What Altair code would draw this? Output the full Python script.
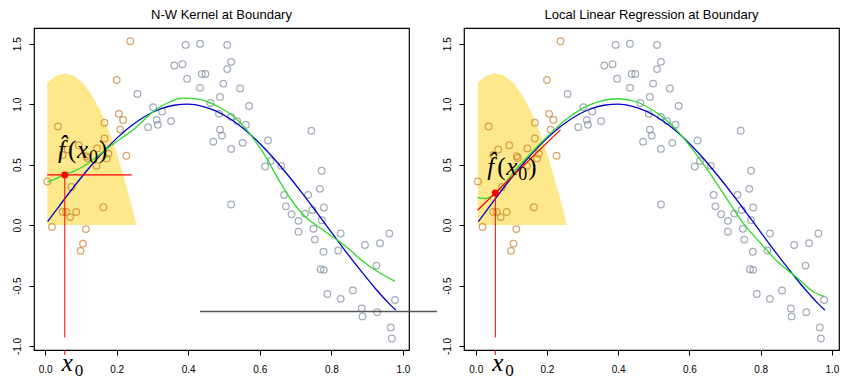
import altair as alt
import pandas as pd

titles = ["N-W Kernel at Boundary", "Local Linear Regression at Boundary"]

# observations inside the kernel window (orange)
orange_x = [0.006, 0.019, 0.036, 0.049, 0.059, 0.070, 0.074, 0.087, 0.049, 0.063,
            0.094, 0.099, 0.106, 0.114, 0.115, 0.118, 0.145, 0.144, 0.163, 0.166,
            0.166, 0.172, 0.177, 0.200, 0.206, 0.210, 0.218, 0.227, 0.238]
orange_y = [0.36, -0.015, 0.815, 0.108, 0.108, 0.066, 0.315, 0.108, 0.58, 0.625,
            0.66, -0.213, -0.153, -0.033, 0.57, 0.555, 0.634, 0.49, 0.148, 0.847,
            0.716, 0.55, 0.59, 1.20, 0.92, 0.79, 0.87, 0.574, 1.52]

# remaining observations (grey)
grey_x = [0.258, 0.288, 0.302, 0.312, 0.315, 0.327, 0.352, 0.361, 0.384, 0.393,
          0.397, 0.433, 0.433, 0.438, 0.448, 0.462, 0.470, 0.486, 0.489, 0.489,
          0.494, 0.498, 0.509, 0.509, 0.520, 0.520, 0.520, 0.520, 0.537, 0.545,
          0.552, 0.561, 0.570, 0.615, 0.623, 0.630, 0.660, 0.668, 0.673, 0.689,
          0.708, 0.708, 0.726, 0.735, 0.744, 0.747, 0.750, 0.754, 0.768, 0.773,
          0.773, 0.778, 0.779, 0.770, 0.779, 0.789, 0.819, 0.826, 0.826, 0.860,
          0.885, 0.887, 0.894, 0.926, 0.928, 0.936, 0.962, 0.966, 0.969, 0.978]
grey_y = [1.085, 0.81, 0.975, 0.87, 0.83, 0.94, 0.86, 1.32, 1.33, 1.49,
          1.21, 1.50, 1.135, 1.25, 1.25, 1.01, 0.69, 0.92, 1.06, 0.79,
          0.74, 1.17, 1.49, 1.29, 1.35, 0.63, 0.895, 0.17, 0.86, 1.13,
          0.68, 0.83, 0.985, 0.485, 0.70, 0.53, 0.49, 0.25, 0.155, 0.09,
          0.035, -0.055, 0.095, 0.25, 0.78, 0.125, -0.03, -0.12, 0.30, 0.45,
          0.04, -0.22, 0.145, -0.365, -0.37, -0.57, -0.21, -0.07, -0.61, -0.54,
          -0.69, -0.755, -0.165, -0.335, -0.72, -0.15, -0.07, -0.846, -0.937, -0.62]

# kernel weights drawn as the yellow region
kernel_x = [0.006, 0.030, 0.055, 0.080, 0.105, 0.130, 0.155, 0.180, 0.205, 0.230, 0.256]
kernel_h = [1.18, 1.235, 1.255, 1.235, 1.177, 1.078, 0.941, 0.765, 0.549, 0.294, 0.0]

# true function (blue)
true_x = [0.007, 0.04, 0.08, 0.12, 0.16, 0.20, 0.24, 0.28, 0.32, 0.36, 0.40, 0.44, 0.48,
          0.52, 0.56, 0.60, 0.64, 0.68, 0.72, 0.76, 0.80, 0.84, 0.88, 0.92, 0.96, 0.98]
true_y = [0.028, 0.159, 0.315, 0.462, 0.597, 0.717, 0.819, 0.900, 0.958, 0.991, 1.000, 0.982,
          0.940, 0.873, 0.784, 0.675, 0.549, 0.408, 0.259, 0.101, -0.058, -0.217, -0.369,
          -0.514, -0.645, -0.703]

# Nadaraya-Watson fit (green, left)
nw_x = [0.007, 0.03, 0.056, 0.08, 0.102, 0.135, 0.172, 0.209, 0.247, 0.28, 0.312, 0.35,
        0.386, 0.433, 0.48, 0.526, 0.563, 0.60, 0.62, 0.64, 0.666, 0.70, 0.73, 0.76, 0.80,
        0.826, 0.85, 0.88, 0.926, 0.978]
nw_y = [0.358, 0.385, 0.42, 0.445, 0.476, 0.545, 0.63, 0.71, 0.79, 0.88, 0.96, 1.02,
        1.05, 1.04, 0.985, 0.90, 0.79, 0.64, 0.55, 0.44, 0.31, 0.16, 0.06, -0.006, -0.09,
        -0.144, -0.2, -0.28, -0.378, -0.466]

# local linear fit (green, right)
ll_x = [0.005, 0.028, 0.056, 0.08, 0.10, 0.15, 0.20, 0.25, 0.30, 0.35, 0.40, 0.45, 0.50,
        0.55, 0.60, 0.65, 0.70, 0.75, 0.80, 0.85, 0.90, 0.95, 0.978]
ll_y = [0.23, 0.22, 0.265, 0.34, 0.415, 0.58, 0.73, 0.865, 0.965, 1.025, 1.045, 1.02, 0.945,
        0.83, 0.66, 0.46, 0.24, 0.02, -0.15, -0.31, -0.43, -0.555, -0.59]

x0 = 0.055
nw_fit = 0.415
ll_fit = 0.265
nw_seg_x = [0.006, 0.242]
nw_seg_y = [0.415, 0.415]
ll_seg_x = [0.005, 0.238]
ll_seg_y = [0.123, 0.79]
drop_y = -0.93
stray_x = [0.433, 1.095]
stray_y = -0.714

x_ticks = [0.0, 0.2, 0.4, 0.6, 0.8, 1.0]
y_ticks = [-1.0, -0.5, 0.0, 0.5, 1.0, 1.5]
# label pieces: text, italic?, font size, horizontal offset (px), baseline shift (px)
fhat_parts = [("f\u0302", True, 25, 0, 0), ("(", False, 25, 10, 0), ("x", True, 25, 19, 0),
              ("0", False, 18, 31, 5), (")", False, 25, 41, 0)]

W, H = 375, 322
ORANGE = "#C8802C"
GREY = "#7F8BA0"
YELLOW = "#FDE98C"
BLUE = "#0000CC"
GREEN = "#2EDB2E"
RED = "#FF0000"
SERIF = "Liberation Serif"

orange_df = pd.DataFrame({"x": orange_x, "y": orange_y})
grey_df = pd.DataFrame({"x": grey_x, "y": grey_y})
kernel_df = pd.DataFrame({"x": kernel_x, "h": kernel_h})
true_df = pd.DataFrame({"x": true_x, "y": true_y})
nw_df = pd.DataFrame({"x": nw_x, "y": nw_y})
ll_df = pd.DataFrame({"x": ll_x, "y": ll_y})

minus_fix = "replace(format(datum.value, '.1f'), '\u2212', '-')"


def panel(title, xdom, fit_df, fit_val, seg_x, seg_y, lab_x, lab_y, stray):
    xs = alt.Scale(domain=xdom, nice=False, zero=False)
    ys = alt.Scale(domain=[-1.033, 1.63], nice=False, zero=False)
    xax = alt.Axis(values=x_ticks, labelExpr=minus_fix, title=None, grid=False,
                   domain=False, tickSize=5, tickColor="black", labelPadding=9,
                   labelFont="Liberation Sans", labelFontSize=10, labelColor="black")
    yax = alt.Axis(values=y_ticks, labelExpr=minus_fix, title=None, grid=False,
                   domain=False, tickSize=5, tickColor="black", labelPadding=7,
                   labelAngle=270, labelAlign="center", labelBaseline="bottom",
                   labelFont="Liberation Sans", labelFontSize=10, labelColor="black")
    X = lambda f="x": alt.X(f"{f}:Q", scale=xs, axis=xax)
    Y = lambda f="y": alt.Y(f"{f}:Q", scale=ys, axis=yax)

    kern = alt.Chart(kernel_df).mark_area(color=YELLOW, opacity=1).encode(
        x=X(), y=Y("h"), y2=alt.datum(0))
    pts_o = alt.Chart(orange_df).mark_point(shape="circle", filled=False, color=ORANGE,
                                            size=44, strokeWidth=1.25).encode(x=X(), y=Y())
    pts_g = alt.Chart(grey_df).mark_point(shape="circle", filled=False, color=GREY,
                                          size=44, strokeWidth=1.25).encode(x=X(), y=Y())
    blue = alt.Chart(true_df).mark_line(color=BLUE, strokeWidth=1.3,
                                        interpolate="monotone").encode(x=X(), y=Y())
    green = alt.Chart(fit_df).mark_line(color=GREEN, strokeWidth=1.3,
                                        interpolate="monotone").encode(x=X(), y=Y())
    seg = alt.Chart(pd.DataFrame({"x": seg_x, "y": seg_y})).mark_line(
        color=RED, strokeWidth=1.2).encode(x=X(), y=Y())
    vline = alt.Chart(pd.DataFrame({"x": [x0], "y": [fit_val], "y2": [drop_y]})).mark_rule(
        color=RED, strokeWidth=1).encode(x=X(), y=Y(), y2="y2:Q")
    vtick = alt.Chart(pd.DataFrame({"x": [x0]})).mark_rule(
        color=RED, strokeWidth=1, clip=False).encode(
        x=X(), y=alt.value(H), y2=alt.value(H + 5))
    dot = alt.Chart(pd.DataFrame({"x": [x0], "y": [fit_val]})).mark_point(
        shape="circle", filled=True, color=RED, size=48, opacity=1).encode(x=X(), y=Y())
    lab_df = pd.DataFrame({"x": [lab_x], "y": [lab_y]})
    labs = []
    for txt, ital, fs, dx, dy in fhat_parts:
        labs.append(alt.Chart(lab_df.assign(t=txt)).mark_text(
            font=SERIF, fontStyle="italic" if ital else "normal", fontSize=fs,
            color="black", align="left", baseline="alphabetic", dx=dx, dy=dy).encode(
            x=X(), y=Y(), text="t:N"))
    xlab = alt.Chart(pd.DataFrame({"x": [x0], "t": ["x"]})).mark_text(
        font=SERIF, fontStyle="italic", fontSize=25, color="black",
        align="left", baseline="alphabetic", dx=-3, clip=False).encode(
        x=X(), y=alt.value(H + 21), text="t:N")
    xsub = alt.Chart(pd.DataFrame({"x": [x0], "t": ["0"]})).mark_text(
        font=SERIF, fontSize=17, color="black",
        align="left", baseline="alphabetic", dx=10, clip=False).encode(
        x=X(), y=alt.value(H + 26), text="t:N")
    layers = [kern, pts_o, pts_g, blue, green, seg, vline, vtick, dot] + labs + [xlab, xsub]
    if stray:
        sl = alt.Chart(pd.DataFrame({"x": [stray_x[0]], "x2": [stray_x[1]], "y": [stray_y]})).mark_rule(
            color="#555555", strokeWidth=1.5, clip=False).encode(x=X(), x2="x2:Q", y=Y())
        layers.append(sl)
    return alt.layer(*layers).properties(
        width=W, height=H,
        title=alt.TitleParams(title, font="Liberation Sans", fontSize=13,
                              fontWeight="normal", color="black", offset=6))


left = panel(titles[0], [-0.031, 1.017], nw_df, nw_fit, nw_seg_x, nw_seg_y, 0.036, 0.556, True)
right = panel(titles[1], [-0.033, 1.020], ll_df, ll_fit, ll_seg_x, ll_seg_y, 0.032, 0.415, False)

chart = alt.hconcat(left, right, spacing=55, bounds="flush").properties(
    padding={"left": 3, "top": 0, "right": 0, "bottom": 0}
).configure_view(stroke="black", strokeWidth=1.2)

chart.save("out.html", embed_options={"renderer": "svg", "actions": False})
